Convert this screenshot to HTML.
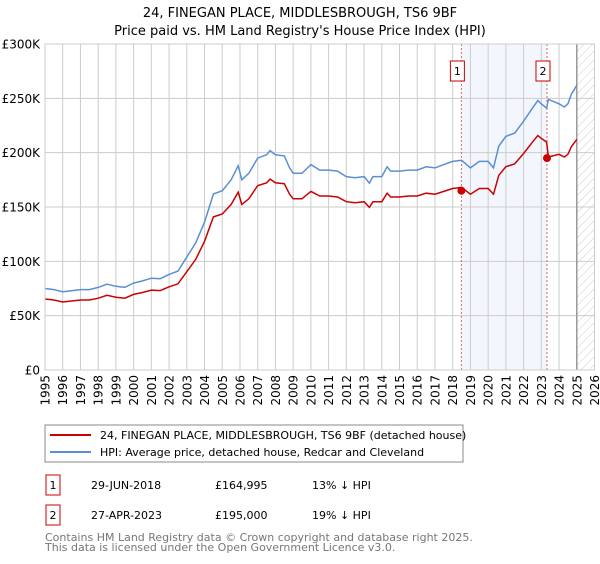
<!DOCTYPE html>
<html><head><meta charset="utf-8"><style>
body{margin:0;background:#fff;width:600px;height:560px;overflow:hidden;font-family:"DejaVu Sans","Liberation Sans",sans-serif;}
svg text{font-family:"DejaVu Sans","Liberation Sans",sans-serif;}
</style></head><body>
<svg id="c" width="600" height="560" xmlns="http://www.w3.org/2000/svg">
<text x="300" y="17" text-anchor="middle" font-size="13">24, FINEGAN PLACE, MIDDLESBROUGH, TS6 9BF</text>
<text x="300" y="35" text-anchor="middle" font-size="13">Price paid vs. HM Land Registry's House Price Index (HPI)</text>
<defs><pattern id="hatch" width="6" height="6" patternUnits="userSpaceOnUse" patternTransform="rotate(45)"><line x1="0" y1="0" x2="0" y2="6" stroke="#ccc" stroke-width="1"/></pattern></defs>
<g id="grid"></g><g id="marks"></g><g id="axes"></g>
<rect x="45" y="425" width="418" height="37" fill="#fff" stroke="#888"/>
<line x1="50" y1="435" x2="91" y2="435" stroke="#cc0000" stroke-width="2"/>
<text x="100" y="439" font-size="11">24, FINEGAN PLACE, MIDDLESBROUGH, TS6 9BF (detached house)</text>
<line x1="50" y1="452" x2="91" y2="452" stroke="#5b8fd4" stroke-width="2"/>
<text x="100" y="456" font-size="11">HPI: Average price, detached house, Redcar and Cleveland</text>
<rect x="46" y="475" width="14" height="20" fill="none" stroke="#cc0000"/>
<text x="53" y="489" font-size="11" text-anchor="middle">1</text>
<text x="91" y="489" font-size="11">29-JUN-2018</text>
<text x="215" y="489" font-size="11">£164,995</text>
<text x="312" y="489" font-size="11">13% ↓ HPI</text>
<rect x="46" y="505" width="14" height="20" fill="none" stroke="#cc0000"/>
<text x="53" y="519" font-size="11" text-anchor="middle">2</text>
<text x="91" y="519" font-size="11">27-APR-2023</text>
<text x="215" y="519" font-size="11">£195,000</text>
<text x="312" y="519" font-size="11">19% ↓ HPI</text>
<text x="45" y="541" font-size="11" fill="#777">Contains HM Land Registry data © Crown copyright and database right 2025.</text>
<text x="45" y="551" font-size="11" fill="#777">This data is licensed under the Open Government Licence v3.0.</text>
</svg>
<script>
const hpiYears=[1995,1995.5,1996,1996.5,1997,1997.5,1998,1998.5,1999,1999.5,2000,2000.5,2001,2001.5,2002,2002.5,2003,2003.5,2004,2004.5,2005,2005.5,2005.9,2006.1,2006.5,2007,2007.5,2007.7,2008,2008.5,2008.8,2009,2009.5,2010,2010.5,2011,2011.5,2012,2012.5,2013,2013.3,2013.5,2014,2014.3,2014.5,2015,2015.5,2016,2016.5,2017,2017.5,2018,2018.5,2019,2019.5,2020,2020.3,2020.6,2021,2021.5,2022,2022.5,2022.8,2023,2023.3,2023.4,2024,2024.3,2024.5,2024.7,2025];
const hpiValues=[75,74,72,73,74,74,76,79,77,76,80,82,84.5,84,88,91,104,117,136,162,165,175,188,175,181,195,198,202,198,197,186,181,181,189,184,184,183,178,177,178,172,178,178,187,183,183,184,184,187,186,189,192,193,186,192,192,186,206,215,218,229,241,248,245,241,249,245,242,245,254,262];
const priceYears=hpiYears;
const priceValues=[65.3,64.4,62.6,63.5,64.4,64.4,66.1,68.7,67,66.1,69.6,71.3,73.5,73.1,76.6,79.2,90.5,101.8,118.3,140.9,143.6,152.3,163.6,152.3,157.5,169.7,172.3,175.7,172.3,171.4,161.8,157.5,157.5,164.4,160.1,160.1,159.2,154.9,154,154.9,149.6,154.9,154.9,162.7,159.2,159.2,160.1,160.1,162.7,161.8,164.4,167,168,161.8,167,167,161.8,179.2,187.1,189.7,199.2,209.7,215.8,213.2,209.7,196,198.5,196,198.5,205.7,212.2];
const saleYears=[2018.49,2023.32];
const saleValues=[164.995,195];
const saleLabels=["1","2"];
const yTicks=[0,50,100,150,200,250,300];
const yTickLabels=["£0","£50K","£100K","£150K","£200K","£250K","£300K"];
const xTicks=[1995,1996,1997,1998,1999,2000,2001,2002,2003,2004,2005,2006,2007,2008,2009,2010,2011,2012,2013,2014,2015,2016,2017,2018,2019,2020,2021,2022,2023,2024,2025,2026];
const NS="http://www.w3.org/2000/svg";
const X0=45,X1=594.5,Y0=370,Y1=44;
const xs=y=>X0+(y-1995)/(2026-1995)*(X1-X0);
const ys=v=>Y0-v/300*(Y0-Y1);
function mk(tag,attrs,parent){const e=document.createElementNS(NS,tag);for(const k in attrs)e.setAttribute(k,attrs[k]);parent.appendChild(e);return e;}
const grid=document.getElementById('grid'),marks=document.getElementById('marks'),axes=document.getElementById('axes');
let r=mk('rect',{x:xs(saleYears[0]),y:Y1,width:xs(saleYears[1])-xs(saleYears[0]),height:Y0-Y1,fill:'#eef3fc',opacity:0.7},grid);


let h=mk('rect',{x:xs(2025),y:Y1,width:X1-xs(2025),height:Y0-Y1,fill:'url(#hatch)'},grid);


yTicks.forEach((v,i)=>{
 const l=mk('line',{x1:X0,x2:X1,y1:ys(v),y2:ys(v),stroke:'#ccc'},grid);
 
 
 const t=mk('text',{x:40,y:ys(v)+4.5,'text-anchor':'end','font-size':12},axes);
 t.textContent=yTickLabels[i];
 
 
});
xTicks.forEach(y=>{
 const l=mk('line',{x1:xs(y),x2:xs(y),y1:Y1,y2:Y0,stroke:'#ccc'},grid);
 
 
 const t=mk('text',{x:0,y:0,'text-anchor':'end','font-size':12,transform:`translate(${xs(y)+4.5},${Y0+5}) rotate(-90)`},axes);
 t.textContent=y;
 
 
});
let vl=mk('line',{x1:xs(2025),x2:xs(2025),y1:Y1,y2:Y0,stroke:'#999','stroke-width':1.5},grid);


saleYears.forEach((y,i)=>{
 const l=mk('line',{x1:xs(y),x2:xs(y),y1:Y1,y2:Y0,stroke:'#e06060','stroke-dasharray':'2,2'},grid);
 
 
});
function path(xa,va,color,name){
 const d=xa.map((y,i)=>(i?'L':'M')+xs(y).toFixed(1)+','+ys(va[i]).toFixed(1)).join('');
 const p=mk('path',{d:d,fill:'none',stroke:color,'stroke-width':1.5},marks);
 
 
}
path(hpiYears,hpiValues,'#5b8fd4','hpi-line');
path(priceYears,priceValues,'#cc0000','property-price-line');
saleYears.forEach((y,i)=>{
 const c=mk('circle',{cx:xs(y),cy:ys(saleValues[i]),r:4,fill:'#cc0000'},marks);
 
 
 const b=mk('rect',{x:xs(y)-11,y:61,width:14,height:20,fill:'#fff',stroke:'#cc0000'},marks);
 
 
 const t=mk('text',{x:xs(y)-4,y:75,'text-anchor':'middle','font-size':11},marks);
 t.textContent=saleLabels[i];
 
 
});
let fr=mk('rect',{x:X0,y:Y1,width:X1-X0,height:Y0-Y1,fill:'none',stroke:'#ccc'},axes);


</script>
</body></html>
